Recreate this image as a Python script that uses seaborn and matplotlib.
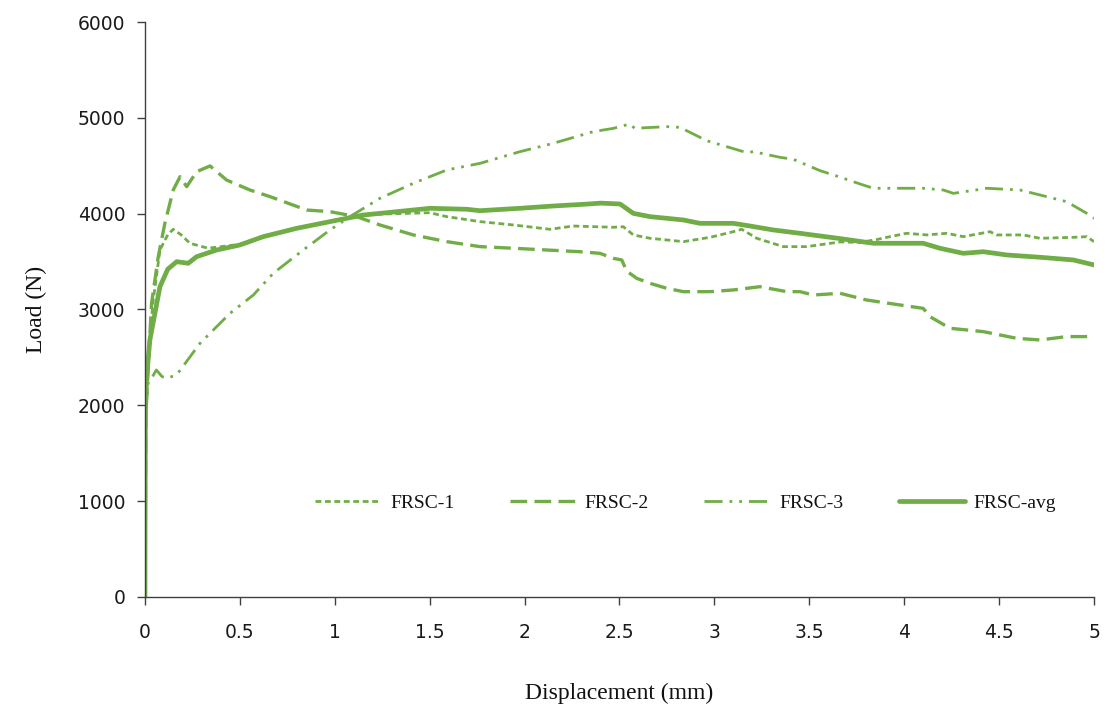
import matplotlib
matplotlib.use("Agg")
import matplotlib.pyplot as plt
import seaborn as sns
import pandas as pd

# Load-displacement readings for the three specimens and their average
disp_1 = [0, 0.005, 0.02, 0.044, 0.079, 0.12, 0.149, 0.19, 0.237, 0.333, 0.5, 0.623,
          0.799, 0.975, 1.15, 1.238, 1.5, 1.59, 1.765, 1.94, 2.134, 2.257, 2.467, 2.52,
          2.573, 2.661, 2.837, 2.977, 3.1, 3.144, 3.223, 3.363, 3.486, 3.662, 3.767,
          3.855, 3.925, 4.013, 4.118, 4.224, 4.311, 4.452, 4.487, 4.628, 4.715, 4.891,
          4.962, 5.0]
load_1 = [0, 1900, 2600, 3099, 3621, 3780, 3837, 3780, 3691, 3639, 3680, 3762,
          3848, 3915, 3982, 3995, 4010, 3969, 3917, 3882, 3837, 3871, 3858, 3864,
          3778, 3743, 3708, 3753, 3812, 3837, 3743, 3656, 3656, 3705, 3700,
          3730, 3760, 3795, 3778, 3795, 3760, 3812, 3778, 3778, 3743, 3753,
          3760, 3708]

disp_2 = [0, 0.005, 0.02, 0.035, 0.07, 0.105, 0.149, 0.185, 0.22, 0.272, 0.343, 0.43,
          0.553, 0.66, 0.852, 0.975, 1.115, 1.238, 1.414, 1.59, 1.765, 1.94, 2.116,
          2.292, 2.397, 2.467, 2.512, 2.538, 2.591, 2.661, 2.749, 2.837, 2.977, 3.1,
          3.24, 3.381, 3.451, 3.521, 3.662, 3.802, 3.978, 4.1, 4.136, 4.241, 4.417,
          4.593, 4.715, 4.856, 5.0]
load_2 = [0, 1900, 2500, 3068, 3550, 3900, 4247, 4386, 4282, 4438, 4498, 4351,
          4247, 4177, 4038, 4021, 3969, 3882, 3778, 3708, 3656, 3639, 3621,
          3603, 3586, 3534, 3517, 3400, 3325, 3273, 3221, 3186, 3186, 3204,
          3238, 3186, 3186, 3151, 3169, 3099, 3047, 3012, 2925, 2804, 2769,
          2699, 2682, 2717, 2717]

disp_3 = [0, 0.003, 0.018, 0.04, 0.06, 0.09, 0.114, 0.167, 0.29, 0.448, 0.571, 0.676,
          0.834, 0.975, 1.08, 1.238, 1.414, 1.59, 1.765, 1.976, 2.151, 2.362, 2.467,
          2.555, 2.58, 2.749, 2.818, 2.959, 3.065, 3.17, 3.205, 3.346, 3.416, 3.556,
          3.644, 3.767, 3.837, 3.978, 4.1, 4.206, 4.259, 4.4, 4.435, 4.61, 4.715,
          4.856, 4.962, 5.0]
load_3 = [0, 1900, 2247, 2300, 2369, 2300, 2282, 2317, 2647, 2960, 3151, 3378,
          3621, 3830, 3969, 4160, 4317, 4456, 4525, 4647, 4734, 4856, 4890,
          4936, 4891, 4908, 4901, 4762, 4699, 4637, 4647, 4588, 4567, 4449,
          4393, 4310, 4265, 4265, 4265, 4247, 4212, 4254, 4265, 4247, 4195,
          4125, 4003, 3951]

disp_avg = [0, 0.002, 0.005, 0.026, 0.079, 0.12, 0.167, 0.228, 0.272, 0.378, 0.5,
            0.623, 0.799, 0.975, 1.15, 1.238, 1.502, 1.695, 1.765, 1.976, 2.151,
            2.33, 2.4, 2.503, 2.573, 2.661, 2.837, 2.924, 3.1, 3.188, 3.31, 3.451,
            3.662, 3.837, 4.1, 4.188, 4.311, 4.417, 4.54, 4.715, 4.891, 5.0]
load_avg = [0, 1880, 2200, 2682, 3238, 3420, 3499, 3482, 3551, 3621, 3673,
            3760, 3847, 3917, 3986, 4003, 4056, 4046, 4031, 4056, 4080,
            4100, 4110, 4101, 4003, 3969, 3934, 3899, 3899, 3871, 3830, 3795,
            3740, 3691, 3691, 3639, 3586, 3603, 3569, 3545, 3517, 3465]

series_names = ["FRSC-1", "FRSC-2", "FRSC-3", "FRSC-avg"]
x_ticks = [0, 0.5, 1, 1.5, 2, 2.5, 3, 3.5, 4, 4.5, 5]
x_tick_labels = ["0", "0.5", "1", "1.5", "2", "2.5", "3", "3.5", "4", "4.5", "5"]
y_ticks = [0, 1000, 2000, 3000, 4000, 5000, 6000]

green = "#70AD47"
styles = {
    "FRSC-1": dict(linewidth=2.0, linestyle=(0, (2.1, 1.3))),
    "FRSC-2": dict(linewidth=2.4, linestyle=(0, (5.0, 2.2))),
    "FRSC-3": dict(linewidth=2.0, linestyle=(0, (6.5, 2.5, 1, 2.5, 1, 2.5))),
    "FRSC-avg": dict(linewidth=3.4, linestyle="-"),
}

frames = [
    pd.DataFrame({"disp": disp_1, "load": load_1}),
    pd.DataFrame({"disp": disp_2, "load": load_2}),
    pd.DataFrame({"disp": disp_3, "load": load_3}),
    pd.DataFrame({"disp": disp_avg, "load": load_avg}),
]

sns.set_theme(style="ticks")
plt.rcParams["font.family"] = ["DejaVu Sans"]

fig = plt.figure(figsize=(11.09, 7.10), dpi=100)
ax = fig.add_axes([0.1307, 0.1592, 0.8558, 0.8098])

for name, df in zip(series_names, frames):
    sns.lineplot(data=df, x="disp", y="load", ax=ax, color=green, sort=False,
                 estimator=None, label=name, **styles[name])

ax.set_xlim(0, 5)
ax.set_ylim(0, 6000)
ax.set_xticks(x_ticks)
ax.set_xticklabels(x_tick_labels)
ax.set_yticks(y_ticks)

for side in ("top", "right"):
    ax.spines[side].set_visible(False)
for side in ("left", "bottom"):
    ax.spines[side].set_color("#404040")
    ax.spines[side].set_linewidth(1.0)

ax.tick_params(axis="both", direction="out", length=6, width=1.0, color="#404040",
               labelsize=13.5, labelcolor="#1a1a1a")
ax.tick_params(axis="y", pad=8)
ax.tick_params(axis="x", pad=13)

serif = ["Liberation Serif", "DejaVu Serif"]
ax.set_xlabel("Displacement (mm)", fontsize=17, family=serif, color="#111111",
              labelpad=29)
ax.set_ylabel("Load (N)", fontsize=17, family=serif, color="#111111", labelpad=22)

leg = ax.legend(loc="center left", bbox_to_anchor=(0.169, 0.163), ncol=4,
                frameon=False, borderpad=0, handlelength=3.4, handletextpad=0.45,
                columnspacing=2.85, prop={"family": serif, "size": 14})
for text in leg.get_texts():
    text.set_color("#111111")

fig.savefig("out.png", dpi=100, facecolor="white")
